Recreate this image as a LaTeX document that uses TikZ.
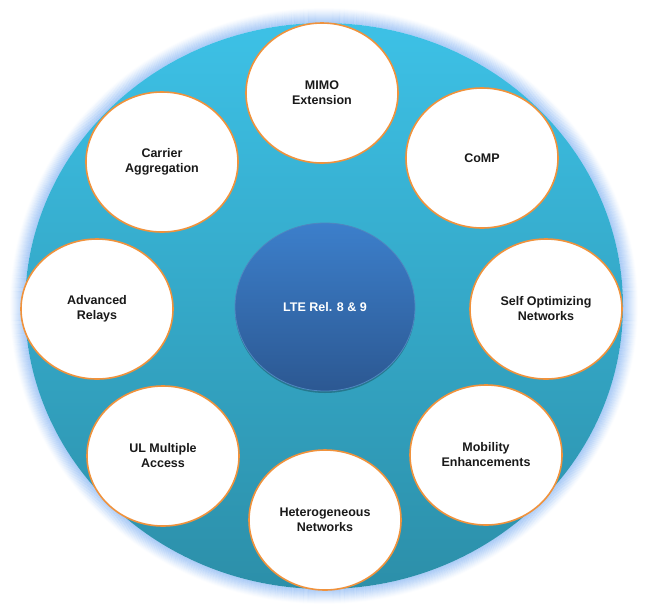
\documentclass[tikz,border=0pt]{standalone}
\usepackage{fontspec}
\setmainfont{Liberation Sans}
\usetikzlibrary{shapes.geometric,shadows}
\definecolor{bigtop}{HTML}{3DC1E6}
\definecolor{bigbot}{HTML}{2C8FA9}
\definecolor{ltetop}{HTML}{3C7FCB}
\definecolor{ltebot}{HTML}{2C5892}
\definecolor{lteedge}{HTML}{4F86C0}
\definecolor{orng}{HTML}{F0923C}
\definecolor{glowblue}{HTML}{9CC2F5}
\begin{document}
\begin{tikzpicture}[x=1pt,y=-1pt,
  feat/.style={ellipse, minimum width=152pt, minimum height=140pt, inner sep=0pt,
    fill=white, draw=orng, line width=1.6pt, align=center,
    font=\bfseries\fontsize{12.5}{15}\selectfont, text=black!90},
  hub/.style={ellipse, minimum width=180pt, minimum height=168pt, inner sep=0pt,
    top color=ltetop, bottom color=ltebot, draw=lteedge, line width=0.8pt,
    align=center, font=\bfseries\fontsize{12.5}{15}\selectfont, text=white,
    drop shadow={shadow xshift=0pt, shadow yshift=-2pt, opacity=0.25, fill=black}}]
\useasboundingbox (0,0) rectangle (645,614);
% outer glow
\foreach \i in {1,...,15}{
  \pgfmathsetmacro{\op}{0.85*(1-\i/16)^1.3}
  \draw[glowblue, opacity=\op, line width=1.3pt]
    (324,306) ellipse [x radius={299pt+\i pt-0.5pt}, y radius={283pt+\i pt-0.5pt}];
}
% main disc
\shade[top color=bigtop, bottom color=bigbot] (324,306) ellipse [x radius=299pt, y radius=283pt];
% hub
\node[hub] (lte) at (325,307) {LTE Rel. 8 \& 9};
% features
\node[feat] (mimo)    at (322,93)  {MIMO\\Extension};
\node[feat] (carrier) at (162,162) {Carrier\\Aggregation};
\node[feat] (comp)    at (482,158) {CoMP};
\node[feat] (relays)  at (97,309)  {Advanced\\Relays};
\node[feat] (son)     at (546,309) {Self Optimizing\\Networks};
\node[feat] (ul)      at (163,456) {UL Multiple\\Access};
\node[feat] (mob)     at (486,455) {Mobility\\Enhancements};
\node[feat] (het)     at (325,520) {Heterogeneous\\Networks};
\end{tikzpicture}
\end{document}
